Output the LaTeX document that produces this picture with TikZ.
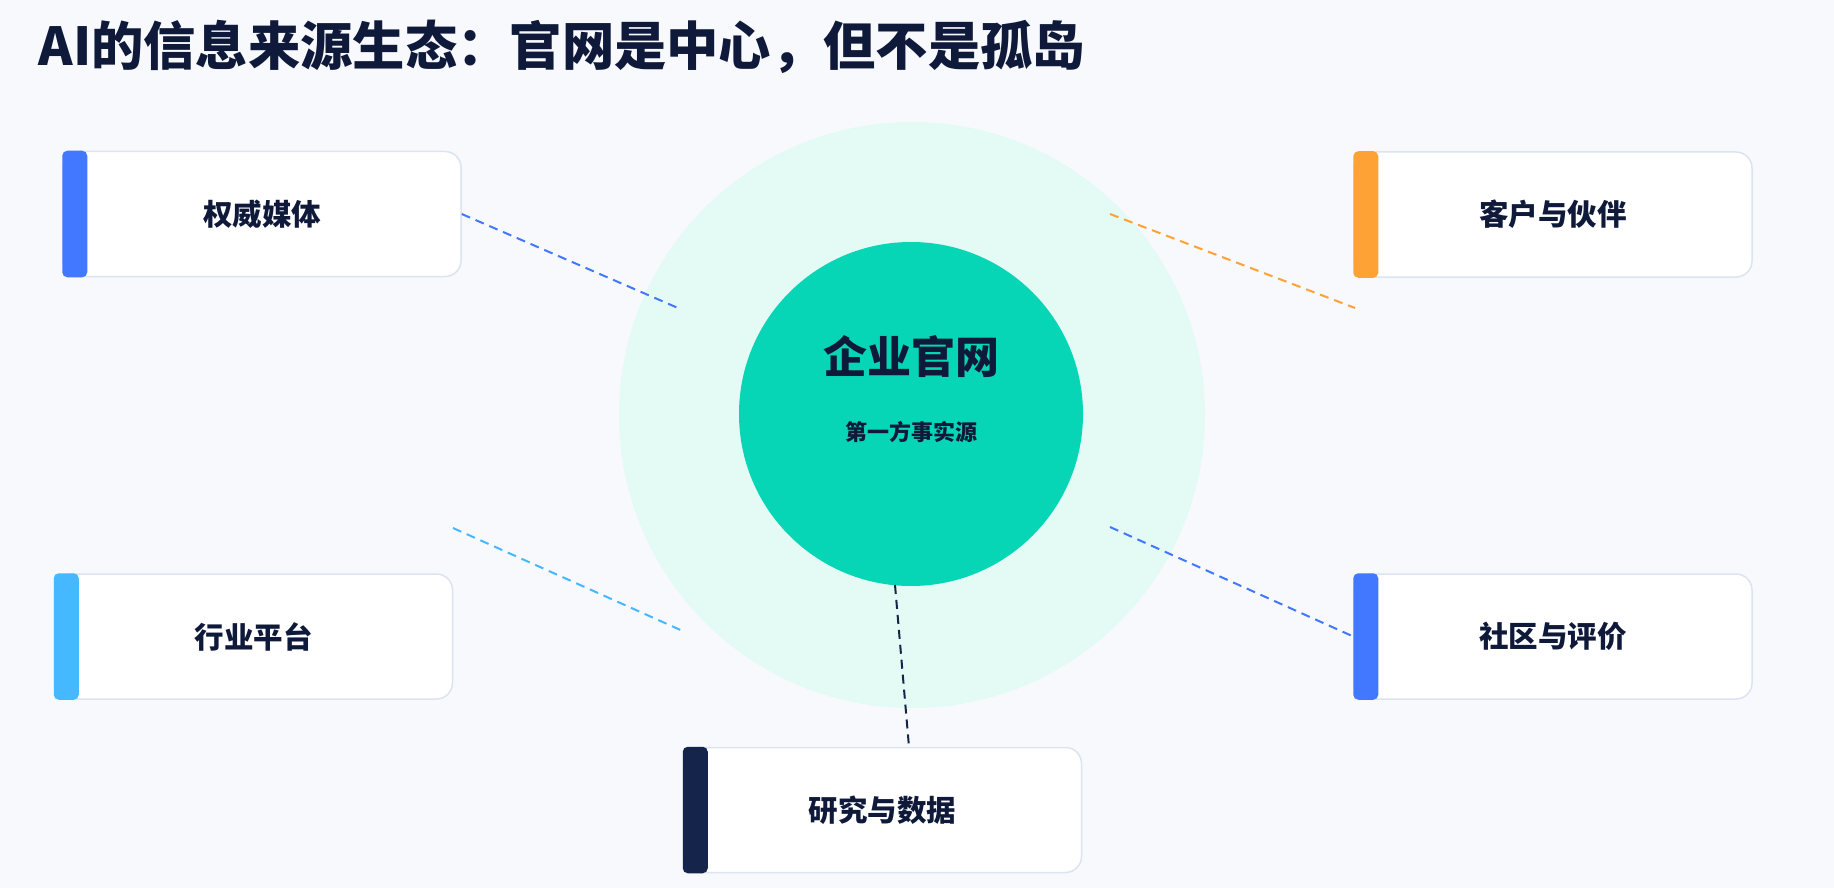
\documentclass[tikz,border=0pt]{standalone}
\usepackage{fontspec}
\setmainfont{Noto Sans CJK SC}[BoldFont={Noto Sans CJK SC Bold}]
\newfontfamily\heavyfont{Noto Sans CJK SC Black}
\usepackage{xcolor}
\usepackage{tikz}
\usetikzlibrary{positioning, calc}

\definecolor{pagebg}{HTML}{F7F9FD}
\definecolor{halo}{HTML}{E4FAF4}
\definecolor{hubfill}{HTML}{06D6B5}
\definecolor{ink}{HTML}{0F1A3A}
\definecolor{edgegray}{HTML}{DCE4F0}
\definecolor{accblue}{HTML}{4178FF}
\definecolor{acccyan}{HTML}{45B8FF}
\definecolor{accorange}{HTML}{FFA236}
\definecolor{accnavy}{HTML}{14244A}

\begin{document}
\begin{tikzpicture}[
  x=1pt, y=-1pt,
  srcbox/.style={rectangle, rounded corners=16pt, draw=edgegray, line width=1.5pt, fill=white,
    minimum width=398pt, minimum height=125pt, text=ink, font=\heavyfont\fontsize{29.5}{34}\selectfont},
  bar/.style={fill=#1, rounded corners=5pt},
  link/.style={dash pattern=on 9pt off 6pt, line width=2pt, draw=#1}
]
\useasboundingbox (0,0) rectangle (1834,888);
\fill[pagebg] (0,0) rectangle (1834,888);

% title
\node[anchor=west, text=ink, font=\heavyfont\fontsize{52.3}{60}\selectfont] (title) at (35,47) {AI的信息来源生态：官网是中心，但不是孤岛};

% hub
\node[circle, fill=halo, minimum size=586pt, inner sep=0pt] (halo) at (912,415) {};

% boxes
\node[srcbox] (media) at (262,214) {权威媒体};
\node[srcbox] (client) at (1553,214.5) {客户与伙伴};
\node[srcbox] (trade) at (253.5,636.5) {行业平台};
\node[srcbox] (forum) at (1553,636.5) {社区与评价};
\node[srcbox] (study) at (882.5,810) {研究与数据};

\fill[bar=accblue] (media.north west) rectangle ([xshift=25pt]media.south west);
\fill[bar=accorange] (client.north west) rectangle ([xshift=25pt]client.south west);
\fill[bar=acccyan] (trade.north west) rectangle ([xshift=25pt]trade.south west);
\fill[bar=accblue] (forum.north west) rectangle ([xshift=25pt]forum.south west);
\fill[bar=accnavy] (study.north west) rectangle ([xshift=25pt]study.south west);

% free ends of the links
\coordinate (mediaEnd) at (678,308);
\coordinate (clientStart) at (1110,214);
\coordinate (clientEnd) at (1355,308);
\coordinate (tradeStart) at (453,528);
\coordinate (tradeEnd) at (685,632);
\coordinate (forumStart) at (1110,527);
\coordinate (studyStart) at (895,585);
\coordinate (studyEnd) at (909,747);

\draw[link=accblue] (media.east) -- (mediaEnd);
\draw[link=accorange] (clientStart) -- (clientEnd);
\draw[link=acccyan] (tradeStart) -- (tradeEnd);
\draw[link=accblue] (forumStart) -- (forum.west);

\node[circle, fill=hubfill, minimum size=344pt, inner sep=0pt] (site) at (911,414) {};
\draw[link=accnavy] (studyStart) -- (studyEnd);

\node[text=ink, font=\heavyfont\fontsize{44}{50}\selectfont] (siteName) at (911,357) {企业官网};
\node[text=ink, font=\heavyfont\fontsize{22}{26}\selectfont] (siteRole) at (911,432) {第一方事实源};

\end{tikzpicture}
\end{document}
